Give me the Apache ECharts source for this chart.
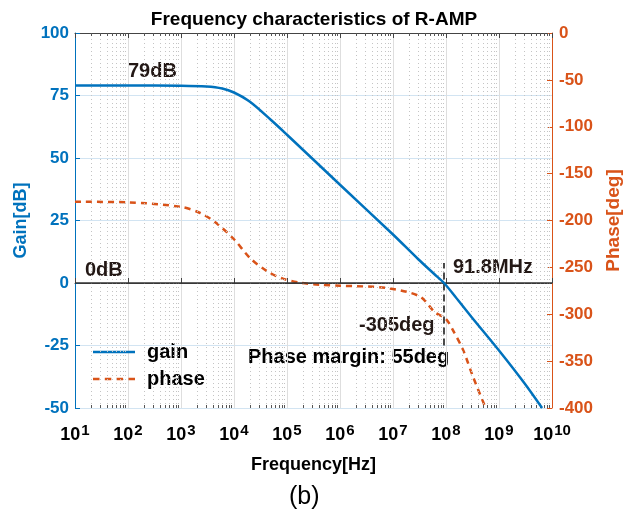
<!DOCTYPE html>
<html lang="en">
<head>
    <meta charset="utf-8">
    <title>Frequency characteristics of R-AMP</title>
    <script src="https://cdn.jsdelivr.net/npm/echarts@6/dist/echarts.min.js"></script>
    <style>
        html, body { margin: 0; padding: 0; background: #fff; }
        #main { width: 638px; height: 516px; }
    </style>
</head>
<body>
    <div id="main"></div>
    <script type="text/javascript">
    // gain curve
    var gainFreq = [10, 100, 1e3, 3e3, 6e3, 1e4, 2e4, 5e4, 1e5, 1e6, 1e7, 3e7, 6e7, 9.18e7, 1.5e8, 3e8, 1e9, 3e9, 6.5e9];
    var gainDb   = [79, 79, 78.9, 78.6, 77.8, 76.2, 72.5, 65.2, 59.3, 39.3, 19.4, 9.5, 3.6, 0, -5.5, -13.5, -27, -40, -50];

    // phase curve
    var phaseFreq = [10, 100, 1e3, 2.3e3, 4.7e3, 1e4, 2e4, 4.2e4, 8.3e4, 1.8e5, 4.2e5, 1e6, 7.6e6, 3.2e7, 6.2e7, 1e8, 1.35e8, 2.1e8, 3.2e8, 5.6e8];
    var phaseDeg  = [-180, -180.6, -185.5, -192, -203, -220, -240, -254, -262, -266.5, -268.5, -269.5, -272, -281, -298, -305, -317, -338, -366, -400];

    var crossFreq = 9.18e7;
    var markerRange = [-25, 8];   // dashed line span, in dB

    var BLUE = '#0072BD', ORANGE = '#D95319';
    var FONT = 'Liberation Sans, Arial, sans-serif';

    function pairs(xs, ys) {
        var res = [];
        for (var i = 0; i < xs.length; i++) res.push([xs[i], ys[i]]);
        return res;
    }

    // 2..9 inside each decade: dotted minor grid plus little ticks top and bottom
    var minorGrid = [], minorTicks = [];
    for (var n = 1; n < 10; n++) {
        for (var m = 2; m < 10; m++) {
            var f = m * Math.pow(10, n);
            minorGrid.push({ xAxis: f });
            minorTicks.push([{ coord: [f, -50] }, { coord: [f, -48.8] }]);
            minorTicks.push([{ coord: [f, 100] }, { coord: [f, 98.8] }]);
        }
    }

    var chartDom = document.getElementById('main');
    var myChart = echarts.init(chartDom, null, { renderer: 'canvas' });
    var option;

    var solidIcon = 'path://M0,0h42v2.6h-42z';
    var dashIcon = 'path://M0,0h6.5v2.6h-6.5zM11.8,0h6.5v2.6h-6.5zM23.6,0h6.5v2.6h-6.5zM35.5,0h6.5v2.6h-6.5z';

    option = {
        animation: false,
        backgroundColor: '#fff',
        title: {
            text: 'Frequency characteristics of R-AMP',
            left: 309, top: 5, textAlign: 'center',
            textStyle: { fontFamily: FONT, fontWeight: 'bold', fontSize: 19, color: '#000' }
        },
        grid: { left: 75, right: 86, top: 33, bottom: 108 },
        legend: {
            left: 93, top: 342, orient: 'vertical', padding: 0,
            itemWidth: 42, itemHeight: 14, itemGap: 7,
            textStyle: { fontFamily: FONT, fontWeight: 'bold', fontSize: 20, color: '#000', lineHeight: 20, padding: [0, 0, 0, 7] },
            data: [{ name: 'gain', icon: solidIcon }, { name: 'phase', icon: dashIcon }]
        },
        xAxis: [{
            type: 'log', min: 10, max: 1e10, splitNumber: 9,
            name: 'Frequency[Hz]', nameLocation: 'middle', nameGap: 48,
            nameTextStyle: { fontFamily: FONT, fontWeight: 'bold', fontSize: 18, color: '#000' },
            axisLine: { lineStyle: { color: '#444', width: 1 } },
            axisTick: { inside: true, length: 5, lineStyle: { color: '#444' } },
            splitLine: { show: true, lineStyle: { color: '#dedede', width: 1 } },
            axisLabel: {
                margin: 15,
                formatter: function (v) {
                    return '{b|10}{s|' + Math.round(Math.log10(v)) + '}';
                },
                rich: {
                    b: { fontFamily: FONT, fontWeight: 'bold', fontSize: 18, color: '#000' },
                    s: { fontFamily: FONT, fontWeight: 'bold', fontSize: 15, color: '#000', verticalAlign: 'top', padding: [0, 0, 10, 1] }
                }
            }
        }, {
            type: 'log', min: 10, max: 1e10, splitNumber: 9, position: 'top',
            axisLine: { show: true, lineStyle: { color: '#444', width: 1 } },
            axisTick: { show: true, inside: true, length: 5, lineStyle: { color: '#444' } },
            axisLabel: { show: false },
            splitLine: { show: false }
        }],
        yAxis: [{
            type: 'value', min: -50, max: 100, interval: 25,
            name: 'Gain[dB]', nameLocation: 'middle', nameGap: 44,
            nameTextStyle: { fontFamily: FONT, fontWeight: 'bold', fontSize: 18, color: BLUE },
            axisLine: { show: true, lineStyle: { color: BLUE, width: 1 } },
            axisTick: { show: true, inside: true, length: 5, lineStyle: { color: BLUE } },
            axisLabel: { fontFamily: FONT, fontWeight: 'bold', fontSize: 17, color: BLUE, margin: 6 },
            splitLine: { show: true, lineStyle: { color: '#d2e4f2', width: 1 } }
        }, {
            type: 'value', min: -400, max: 0, interval: 50, position: 'right',
            name: 'Phase[deg]', nameLocation: 'middle', nameGap: 52, nameRotate: 90,
            nameTextStyle: { fontFamily: FONT, fontWeight: 'bold', fontSize: 19, color: ORANGE },
            axisLine: { show: true, lineStyle: { color: ORANGE, width: 1 } },
            axisTick: { show: true, inside: true, length: 5, lineStyle: { color: ORANGE } },
            axisLabel: { fontFamily: FONT, fontWeight: 'bold', fontSize: 17, color: ORANGE, margin: 7 },
            splitLine: { show: false }
        }],
        series: [
            {
                name: 'minor', type: 'line', data: [], silent: true,
                markLine: {
                    silent: true, symbol: 'none', label: { show: false },
                    lineStyle: { color: '#c4c4c4', type: [1, 3], width: 1 },
                    data: minorGrid
                }
            },
            {
                name: 'minorTicks', type: 'line', data: [], silent: true,
                markLine: {
                    silent: true, symbol: 'none', label: { show: false },
                    lineStyle: { color: '#555', type: 'solid', width: 1 },
                    data: minorTicks
                }
            },
            {
                name: 'gain', type: 'line', xAxisIndex: 0, yAxisIndex: 0,
                data: pairs(gainFreq, gainDb), smooth: 0.3, symbol: 'none',
                lineStyle: { color: BLUE, width: 2.5 }, itemStyle: { color: BLUE },
                z: 5,
                markLine: {
                    silent: true, symbol: 'none', label: { show: false },
                    data: [
                        { yAxis: 0, lineStyle: { color: '#333', width: 1.5, type: 'solid' } },
                        [
                            { coord: [crossFreq, markerRange[0]], lineStyle: { color: '#111', width: 1.5, type: [7, 4] } },
                            { coord: [crossFreq, markerRange[1]] }
                        ]
                    ]
                }
            },
            {
                name: 'phase', type: 'line', xAxisIndex: 0, yAxisIndex: 1,
                data: pairs(phaseFreq, phaseDeg), smooth: 0.3, symbol: 'none',
                lineStyle: { color: ORANGE, width: 2.5, type: [6, 5] }, itemStyle: { color: ORANGE },
                z: 4
            }
        ],
        graphic: [
            { type: 'text', left: 128, top: 61, style: { text: '79dB', font: 'bold 20px ' + FONT, fill: '#231815' } },
            { type: 'text', left: 85, top: 260, style: { text: '0dB', font: 'bold 20px ' + FONT, fill: '#231815' } },
            { type: 'text', left: 453, top: 257, style: { text: '91.8MHz', font: 'bold 20px ' + FONT, fill: '#231815' } },
            { type: 'text', left: 359, top: 315, style: { text: '-305deg', font: 'bold 20px ' + FONT, fill: '#231815' } },
            { type: 'text', left: 248, top: 347, style: { text: 'Phase margin: 55deg', font: 'bold 20px ' + FONT, fill: '#000' } },
            { type: 'text', left: 289, top: 485, style: { text: '(b)', font: '25px ' + FONT, fill: '#000' } }
        ]
    };

    option && myChart.setOption(option);
    </script>
</body>
</html>
